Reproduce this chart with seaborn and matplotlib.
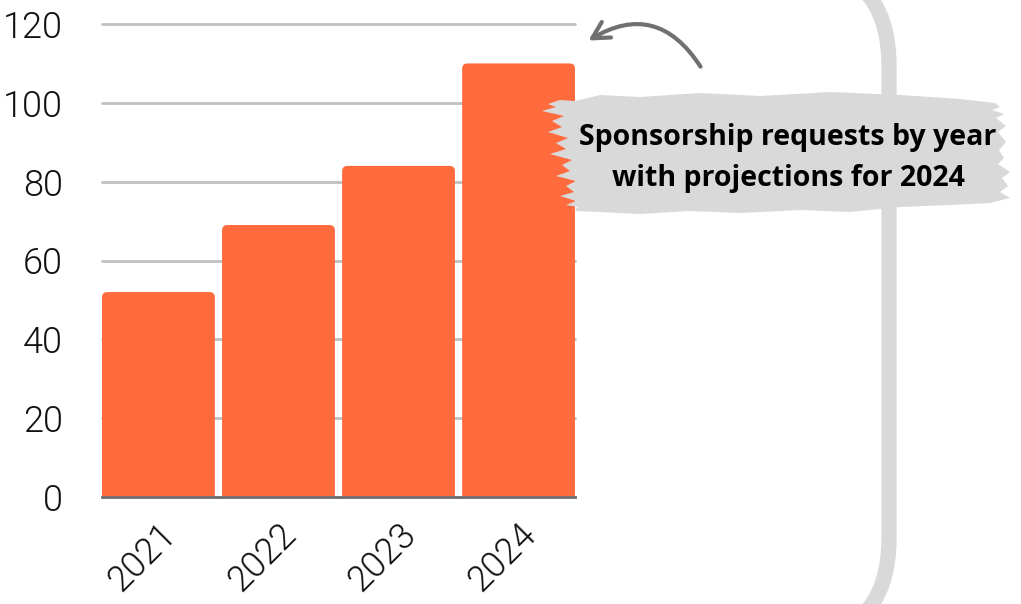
import matplotlib
matplotlib.use("Agg")
import matplotlib.pyplot as plt
import seaborn as sns
import pandas as pd
from matplotlib.patches import FancyBboxPatch, FancyArrowPatch, Polygon
from matplotlib import transforms

years = ["2021", "2022", "2023", "2024"]
requests = [52, 69, 84, 110]
yticks = [0, 20, 40, 60, 80, 100, 120]
title_lines = ["Sponsorship requests by year", "with projections for 2024"]

BAR = "#FF6B3D"
W, H = 1021, 604

sns.set_theme(style="white")
plt.rcParams["font.family"] = ["Roboto", "DejaVu Sans"]

fig = plt.figure(figsize=(W / 100, H / 100), dpi=100)
fig.patch.set_facecolor("white")

def fp(x, y):
    """pixel (from top-left) -> figure fraction"""
    return (x / W, 1 - y / H)

ax = fig.add_axes([102 / W, 1 - 497 / H, (575 - 102) / W, (497 - 24) / H])
df = pd.DataFrame({"year": years, "requests": requests})
sns.barplot(data=df, x="year", y="requests", color=BAR, saturation=1,
            width=0.94, ax=ax)
ax.set_xlim(-0.47, 3.47)
ax.set_ylim(0, 120)
ax.set_yticks(yticks)
ax.set_xlabel("")
ax.set_ylabel("")

# rounded bar tops
for p in list(ax.patches):
    x, y = p.get_x(), p.get_y()
    w, h = p.get_width(), p.get_height()
    p.set_visible(False)
    rb = FancyBboxPatch((x, y - 5), w, h + 5,
                        boxstyle="round,pad=0,rounding_size=0.045",
                        mutation_aspect=30, facecolor=BAR, edgecolor="none",
                        zorder=2)
    ax.add_patch(rb)

ax.yaxis.grid(True, color="#c0c0c0", lw=2)
ax.set_axisbelow(True)
for gl in ax.get_ygridlines():
    gl.set_clip_on(False)
for s in ["left", "right", "top"]:
    ax.spines[s].set_visible(False)
ax.spines["bottom"].set_color("#707070")
ax.spines["bottom"].set_linewidth(2)
ax.spines["bottom"].set_zorder(3)
ax.tick_params(axis="both", length=0)
ax.tick_params(axis="y", pad=28, labelsize=26, labelcolor="black")
ax.tick_params(axis="x", pad=14, labelsize=26, labelcolor="black")
for lbl in ax.get_yticklabels():
    lbl.set_fontweight(300)
    lbl.set_color("#111111")
for lbl in ax.get_xticklabels():
    lbl.set_fontweight(300)
    lbl.set_color("#111111")
    lbl.set_rotation(45)
    lbl.set_ha("center")
    lbl.set_transform(lbl.get_transform() +
                      transforms.ScaledTranslation(-16 / 100, 0, fig.dpi_scale_trans))

# big rounded frame on the right
frame = FancyBboxPatch(fp(-600, 640), (889 + 600) / W, (640 + 36) / H,
                       boxstyle="round,pad=0,rounding_size=0.1",
                       mutation_aspect=W / H,
                       transform=fig.transFigure, facecolor="none",
                       edgecolor="#d9d9d9", lw=11, zorder=0)
fig.add_artist(frame)

# brush stroke background (feathered left / right ends)
brush_px = [
    (548, 104), (560, 100), (575, 101), (600, 95), (640, 97), (700, 93),
    (760, 96), (830, 92), (900, 95), (960, 99), (995, 103), (1000, 107),
    (992, 110), (1004, 114), (996, 118), (1006, 126), (998, 132),
    (1006, 142), (999, 150), (1004, 158), (998, 164), (1010, 172),
    (1002, 178), (1008, 186), (1000, 192), (1010, 198), (990, 203),
    (950, 205), (900, 207), (850, 212), (800, 210), (740, 213),
    (690, 211), (640, 214), (600, 212), (574, 211), (578, 207),
    (566, 205), (576, 201), (560, 196), (574, 192), (566, 186),
    (576, 181), (556, 176), (570, 171), (562, 165), (572, 160),
    (550, 154), (566, 149), (556, 143), (568, 138), (548, 132),
    (562, 127), (552, 121), (564, 116), (542, 111), (556, 107),
]
brush = Polygon([fp(x, y) for x, y in brush_px], closed=True,
                transform=fig.transFigure, facecolor="#d9d9d9",
                edgecolor="none", zorder=1)
fig.add_artist(brush)

for txt, yy in zip(title_lines, [137, 178]):
    fig.text(*fp(788, yy), txt, ha="center", va="center",
             fontsize=20.5, fontweight="bold", color="black",
             family=["Open Sans", "DejaVu Sans"], zorder=5)

# curved arrow
arrow = FancyArrowPatch(fp(702, 69), fp(586, 42),
                        connectionstyle="arc3,rad=0.5",
                        arrowstyle="->,head_length=12,head_width=6.5",
                        transform=fig.transFigure, color="#707070",
                        lw=3, zorder=5)
fig.add_artist(arrow)

fig.savefig("out.png", dpi=100)
